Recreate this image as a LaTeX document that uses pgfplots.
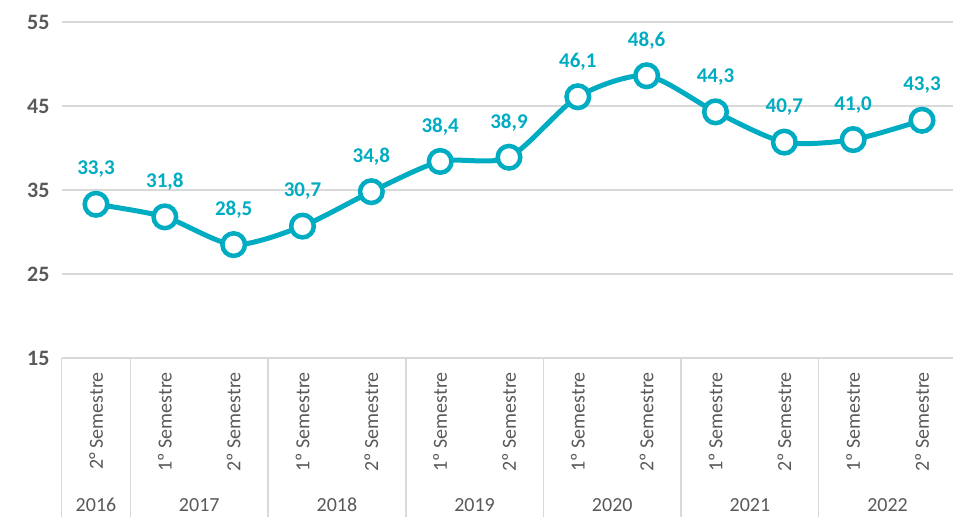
\documentclass[border=0pt]{standalone}
\usepackage{pgfplots}
\pgfplotsset{compat=1.18}
\usepackage{fontspec}
\setmainfont{Carlito}
\definecolor{teal1}{RGB}{0,172,193}
\definecolor{gridc}{RGB}{217,217,217}
\definecolor{txtc}{RGB}{89,89,89}
\begin{document}
\begin{tikzpicture}
\begin{axis}[
  name=ax,
  scale only axis,
  width=894.8bp, height=336bp,
  xmin=-0.5, xmax=12.5,
  ymin=15, ymax=55,
  ytick={15,25,35,45,55},
  ymajorgrids,
  grid style={gridc, line width=1.5bp},
  axis line style={draw=none},
  major tick length=0pt,
  clip=false,
  yticklabel style={font=\fontsize{22bp}{24bp}\selectfont\bfseries, text=txtc, inner sep=0pt},
  yticklabel shift=12bp,
  /pgf/number format/assume math mode=true,
  xtick={0,...,12},
  xticklabels={2° Semestre,1º Semestre,2º Semestre,1º Semestre,2º Semestre,1º Semestre,2º Semestre,1º Semestre,2º Semestre,1º Semestre,2º Semestre,1º Semestre,2º Semestre},
  xticklabel style={rotate=90, anchor=east, inner sep=0pt, font=\fontsize{20bp}{22bp}\selectfont, text=txtc},
  xticklabel shift=14bp,
  nodes near coords,
  point meta=explicit symbolic,
  nodes near coords style={anchor=center, yshift=35bp, font=\fontsize{21bp}{23bp}\selectfont\bfseries, text=teal1},
]
\addplot[teal1, line width=5bp, smooth, tension=0.45,
  mark=*, mark size=11.3bp, mark options={fill=white, draw=teal1, line width=4.5bp}]
  table[meta=lab] {
x y lab
0 33.3 33,3
1 31.8 31,8
2 28.5 28,5
3 30.7 30,7
4 34.8 34,8
5 38.4 38,4
6 38.9 38,9
7 46.1 46,1
8 48.6 48,6
9 44.3 44,3
10 40.7 40,7
11 41.0 41,0
12 43.3 43,3
};
\foreach \b in {-0.5,0.5,2.5,4.5,6.5,8.5,10.5,12.5}{
  \edef\tmp{\noexpand\draw[gridc, line width=1.5bp] (axis cs:\b,15) -- ([yshift=-160bp]axis cs:\b,15);}\tmp
}
\foreach \xx/\yy in {0/2016,1.5/2017,3.5/2018,5.5/2019,7.5/2020,9.5/2021,11.5/2022}{
  \edef\tmp{\noexpand\node[font=\noexpand\fontsize{20bp}{22bp}\noexpand\selectfont, text=txtc] at ([yshift=-147bp]axis cs:\xx,15) {\yy};}\tmp
}
\end{axis}
\pgfresetboundingbox
\path ([xshift=-61.6bp,yshift=-159bp]ax.south west) rectangle ([xshift=-3.4bp,yshift=22bp]ax.north east);
\end{tikzpicture}
\end{document}
